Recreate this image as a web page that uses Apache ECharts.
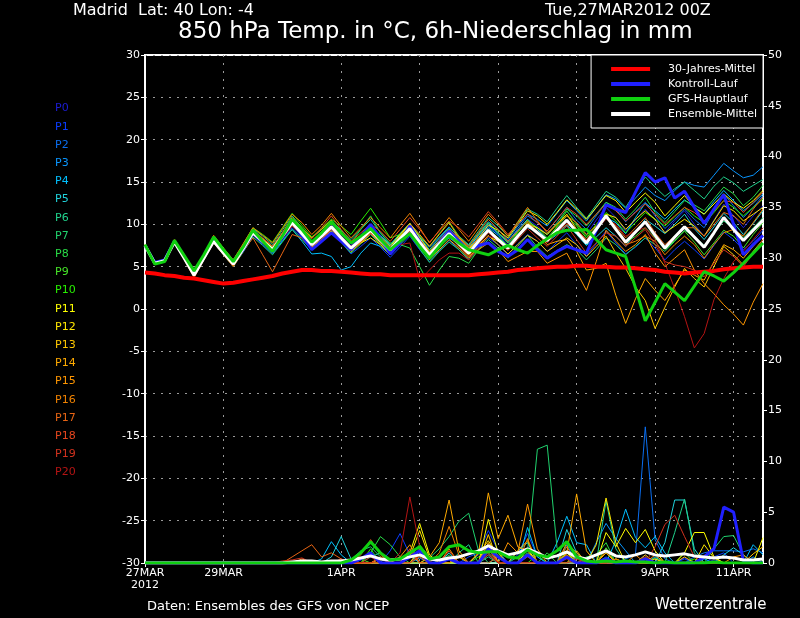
<!DOCTYPE html>
<html>
<head>
<meta charset="utf-8">
<script src="https://cdn.jsdelivr.net/npm/echarts@6/dist/echarts.min.js"></script>
<style>
  html, body { margin: 0; padding: 0; background: #000; }
  #chart { width: 800px; height: 618px; }
</style>
</head>
<body>
<div id="chart"></div>
<script>
// 6-hourly steps from 27MAR2012 00Z
const stepHours = []
for (let i = 0; i < 64; i++) stepHours.push(i * 6)
const dateSteps = [0, 8, 20, 28, 36, 44, 52, 60]
const dateLabels = ['27MAR\n2012', '29MAR', '1APR', '3APR', '5APR', '7APR', '9APR', '11APR']

const memberNames = ['P0','P1','P2','P3','P4','P5','P6','P7','P8','P9','P10',
  'P11','P12','P13','P14','P15','P16','P17','P18','P19','P20']
const memberColors = ['#1c1cd4','#0a3cff','#0a6ef0','#0a96ff','#00c0ff','#20d2dc','#20d28c',
  '#20d26e','#28dc46','#46e628','#28f000','#ffff00','#ffe600','#ffc800','#ffaa00','#ff9600',
  '#f08200','#e66414','#e6461e','#d2321e','#b41414']

// 850 hPa temperature (°C)
const climateTemp = [4.3,4.2,4.0,3.9,3.7,3.6,3.4,3.2, 3.0,3.1,3.3,3.5,3.7,3.9,4.2,4.4,
  4.6,4.6,4.5,4.5,4.4,4.3,4.2,4.1, 4.1,4.0,4.0,4.0,4.0,4.0,4.0,4.0,
  4.0,4.0,4.1,4.2,4.3,4.4,4.6,4.7, 4.8,4.9,5.0,5.0,5.1,5.1,5.0,5.0,
  4.9,4.9,4.8,4.7,4.6,4.4,4.3,4.2, 4.3,4.4,4.5,4.7,4.8,4.9,5.0,5.0]
const controlTemp = [7.5,5.5,5.8,8.0, 6.2,4.3,6.2,8.2, 6.8,5.5,7.0,9.0, 8.0,6.8,8.5,10.3,
  8.7,7.0,8.0,9.0, 8.0,7.0,8.5,10.0, 8.3,6.5,7.8,9.8, 8.0,6.2,7.8,9.2,
  8.0,6.8,7.5,7.8, 6.8,6.2,7.0,8.2, 7.0,6.0,6.8,7.4, 7.0,6.6,9.3,12.3,
  11.8,11.4,13.8,16.1, 15.0,15.5,13.1,13.9, 12.0,10.1,11.8,13.5, 10.0,6.4,7.6,8.7]
const gfsTemp = [7.6,5.3,5.6,8.1, 6.3,4.5,6.4,8.5, 7.0,5.6,7.3,9.3, 8.0,6.8,8.6,10.6,
  9.4,7.9,9.0,10.3, 9.0,7.8,8.6,9.5, 8.2,7.0,8.0,8.9, 7.4,6.0,7.4,8.7,
  7.8,7.0,6.7,6.4, 7.0,7.5,7.0,6.6, 7.5,8.3,9.0,9.3, 9.3,9.4,8.2,7.0,
  6.6,6.2,2.5,-1.4, 0.8,3.0,2.0,1.0, 2.7,4.4,3.9,3.3, 4.3,5.4,6.6,7.8]
const meanTemp = [7.5,5.4,5.7,7.9, 6.0,4.0,6.0,8.0, 6.6,5.3,7.1,9.0, 8.0,7.0,8.6,10.2,
  8.9,7.6,8.6,9.7, 8.4,7.2,8.2,9.3, 8.1,7.0,8.3,9.5, 7.9,6.4,7.7,8.9,
  7.7,6.6,8.0,9.3, 8.2,7.2,8.6,9.9, 9.0,8.1,9.3,10.5, 9.1,7.8,9.4,11.0,
  9.4,7.9,9.1,10.3, 8.7,7.2,8.5,9.7, 8.5,7.3,9.0,10.8, 9.4,8.1,9.3,10.5]

const p0Temp = [7.5,5.4,5.8,8.0, 6.1,4.1,6.2,8.2, 6.8,5.5,7.4,9.2, 8.2,7.1,8.8,10.4, 9.0,7.9,8.9,10.0, 8.8,7.6,8.6,9.8, 8.4,7.3,8.8,10.0, 8.4,7.0,8.3,9.5, 8.3,7.1,8.6,10.0, 8.8,7.6,9.2,10.6, 9.8,8.8,10.2,11.5, 10.2,8.8,10.5,12.0, 10.8,9.2,10.5,11.8, 10.5,9.0,10.4,11.6, 10.0,8.6,10.5,12.4, 11.0,9.6,11.0,12.2]
const p1Temp = [7.4,5.3,5.6,7.8, 5.9,3.9,5.9,7.9, 6.5,5.1,6.9,8.7, 7.6,6.5,8.1,9.6, 8.4,7.0,8.0,9.1, 7.9,6.5,7.4,8.4, 7.3,6.1,7.3,8.6, 7.0,5.6,6.9,8.1, 7.0,5.9,7.2,8.4, 7.6,6.4,7.7,8.8, 8.0,6.8,7.9,9.0, 7.6,6.3,7.7,9.2, 7.8,6.5,7.3,8.4, 7.2,5.8,7.0,8.0, 7.0,5.9,7.5,9.1, 8.2,7.0,8.0,9.3]
const p2Temp = [7.5,5.4,5.7,7.9, 6.0,4.1,6.1,8.1, 6.7,5.4,7.2,9.1, 8.1,7.2,8.7,10.1, 8.8,7.4,8.4,9.5, 8.2,7.0,8.1,9.4, 8.2,7.2,8.5,9.8, 8.1,6.8,8.0,9.1, 8.0,6.9,8.4,9.8, 8.9,7.9,9.5,11.0, 10.2,9.2,10.6,12.0, 10.5,9.4,11.0,12.6, 11.8,10.3,11.5,12.6, 11.0,9.5,10.6,11.8, 10.6,9.6,11.6,13.6, 12.2,10.8,12.0,13.4]
const p3Temp = [7.5,5.5,5.8,7.9, 6.0,4.0,6.1,8.1, 6.7,5.3,7.1,8.9, 7.9,6.9,8.5,10.1, 8.7,7.3,8.2,9.3, 8.3,7.4,8.6,9.9, 8.7,7.6,8.9,10.1, 8.6,7.3,8.5,9.7, 8.5,7.5,8.9,10.3, 9.4,8.2,9.8,11.2, 10.6,9.8,11.3,12.8, 11.6,10.4,12.0,13.5, 13.0,11.9,13.1,14.4, 13.4,12.8,14.0,15.0, 14.6,14.4,15.8,17.2, 16.3,15.5,15.8,16.8]
const p4Temp = [7.5,5.4,5.7,7.8, 5.9,4.0,6.0,7.9, 6.5,5.2,6.9,8.8, 7.8,6.6,8.0,9.4, 8.0,6.5,6.6,6.2, 4.6,5.0,6.6,7.8, 7.4,6.5,7.8,9.1, 7.8,6.3,7.4,8.4, 7.6,6.7,8.2,9.6, 8.7,7.4,8.6,9.6, 9.2,7.9,8.8,9.8, 9.0,7.6,9.2,10.8, 10.2,8.9,10.8,12.5, 11.6,10.6,11.8,12.9, 12.0,11.2,12.7,14.0, 12.8,11.6,12.5,13.6]
const p5Temp = [7.6,5.5,5.8,8.0, 6.1,4.2,6.1,8.0, 6.9,5.8,7.5,9.2, 8.3,7.4,8.9,10.5, 9.2,8.0,9.0,10.1, 8.9,7.8,8.6,9.6, 8.6,7.6,8.6,9.5, 7.6,6.0,7.3,8.6, 8.0,7.2,8.7,10.1, 9.0,8.0,9.3,10.6, 9.4,8.3,9.1,9.9, 8.8,7.5,8.5,9.6, 8.6,7.4,9.0,10.6, 9.8,8.9,10.0,11.2, 9.5,8.2,9.7,11.3, 10.2,8.8,10.1,11.6]
const p6Temp = [7.5,5.4,5.7,7.9, 6.0,4.0,6.0,8.0, 6.8,5.6,7.5,9.5, 8.6,7.6,9.3,11.0, 9.6,8.4,9.4,10.5, 9.3,8.2,9.4,10.6, 9.0,7.6,8.9,10.1, 8.5,7.0,8.4,9.6, 8.6,7.6,9.2,10.8, 9.8,8.6,10.2,11.8, 11.2,10.3,11.9,13.4, 12.0,10.7,12.3,13.9, 13.2,12.0,13.8,15.6, 14.4,13.3,14.2,15.0, 14.0,13.0,14.5,15.6, 14.9,13.9,14.6,15.3]
const p7Temp = [7.4,5.3,5.6,7.8, 5.9,3.9,5.8,7.8, 6.4,5.0,6.7,8.5, 7.5,6.4,7.9,9.4, 8.2,7.0,8.1,9.2, 7.9,6.6,7.7,8.8, 7.6,6.4,7.6,8.8, 7.1,5.5,6.8,7.9, 7.0,5.8,7.0,8.2, 7.2,6.0,7.4,8.7, 7.3,6.2,6.9,7.6, 7.0,5.8,7.0,8.4, 7.6,6.4,7.4,8.4, 7.6,6.8,8.0,9.3, 8.6,7.5,8.9,10.4, 9.5,8.4,9.6,10.8]
const p8Temp = [7.5,5.4,5.7,7.9, 6.0,4.1,6.1,8.1, 6.6,5.4,7.2,9.1, 8.0,7.0,8.6,10.3, 9.1,7.8,8.8,9.8, 8.8,7.8,9.4,11.0, 9.0,7.8,7.6,7.2, 5.0,2.8,4.6,6.2, 6.0,5.4,7.0,8.6, 8.0,7.0,8.6,10.2, 9.6,8.8,10.2,11.8, 11.0,9.8,11.2,12.6, 12.0,10.6,11.8,13.2, 11.4,10.2,11.5,12.8, 12.3,11.6,13.0,14.4, 13.6,12.2,13.2,14.6]
const p9Temp = [7.5,5.4,5.6,7.8, 6.0,4.0,5.9,7.9, 6.5,5.2,7.0,8.9, 8.2,7.3,8.8,10.4, 9.0,7.6,8.5,9.5, 8.1,6.8,7.9,9.1, 8.2,7.2,8.6,10.0, 8.6,7.4,8.9,10.3, 8.6,7.4,8.8,10.2, 9.0,7.8,9.1,10.4, 9.6,8.4,9.7,11.0, 9.8,8.4,9.7,11.2, 9.4,7.8,8.6,9.6, 8.4,7.0,8.1,9.2, 7.9,6.4,7.8,9.3, 8.6,7.2,8.8,10.2]
const p10Temp = [7.5,5.4,5.7,7.9, 6.0,4.0,6.0,8.1, 6.9,5.7,7.6,9.6, 8.8,7.9,9.6,11.3, 9.9,8.5,9.5,10.6, 9.8,8.8,10.4,11.9, 10.2,8.4,8.8,9.2, 8.0,6.6,7.6,8.6, 7.8,6.4,7.8,9.2, 8.4,7.5,9.0,10.5, 9.0,8.0,9.8,11.6, 10.0,8.6,10.0,11.4, 10.4,9.0,10.2,11.4, 10.6,9.8,10.9,12.0, 11.0,10.2,11.4,12.8, 12.0,11.0,12.0,13.0]
const p11Temp = [7.6,5.5,5.8,8.0, 6.1,4.1,6.1,8.1, 6.7,5.4,7.2,9.1, 8.2,7.2,8.7,10.3, 9.0,7.7,8.7,9.8, 8.6,7.3,8.4,9.6, 8.5,7.4,8.8,10.1, 8.4,6.8,8.1,9.4, 8.2,7.0,8.4,9.9, 9.3,8.4,10.0,11.6, 11.0,10.0,11.4,12.9, 11.8,10.6,12.0,13.4, 12.8,11.4,12.6,13.7, 12.6,11.0,12.2,13.4, 12.0,11.2,12.4,13.6, 12.6,11.9,12.8,14.0]
const p12Temp = [7.5,5.4,5.7,7.9, 6.0,4.0,6.0,8.0, 6.6,5.3,7.1,9.0, 8.1,7.1,8.7,10.3, 9.0,7.7,8.7,9.8, 8.6,7.2,7.8,8.4, 7.6,6.4,7.9,9.3, 7.9,6.3,7.5,8.6, 7.6,6.4,7.5,8.6, 8.0,7.1,8.6,10.0, 9.6,8.8,10.0,11.2, 9.4,8.0,9.6,11.2, 10.8,9.4,10.6,11.6, 10.6,9.0,9.8,10.6, 9.8,8.6,10.4,12.2, 11.6,10.4,11.2,12.0]
const p13Temp = [7.5,5.4,5.7,7.9, 6.0,4.0,6.0,8.0, 6.6,5.3,7.2,9.2, 8.2,7.0,8.5,10.0, 8.7,7.3,8.2,9.2, 8.0,6.8,7.8,8.9, 7.8,6.6,7.8,9.0, 7.4,5.8,7.0,8.2, 7.2,6.0,7.4,8.7, 7.6,6.5,7.6,8.7, 8.0,6.8,7.6,8.4, 7.6,6.2,7.4,8.6, 6.6,4.8,2.6,1.0, -2.3,0.2,2.6,4.8, 3.6,2.6,5.0,7.4, 6.4,5.2,6.8,8.2]
const p14Temp = [7.4,5.3,5.6,7.8, 5.9,3.9,5.9,7.9, 6.6,5.3,7.2,9.2, 8.3,7.4,9.0,10.8, 9.6,8.4,9.4,10.5, 9.0,7.8,8.7,9.6, 8.4,7.1,8.6,10.1, 8.8,7.4,8.8,10.2, 8.4,7.2,8.3,9.4, 8.2,7.0,8.6,10.2, 9.0,7.6,8.0,8.2, 6.8,4.6,4.8,5.4, 1.6,-1.7,1.2,3.6, 2.2,1.0,2.8,4.6, 4.0,3.4,5.6,7.6, 7.0,6.0,7.4,8.8]
const p15Temp = [7.5,5.4,5.7,7.9, 6.0,4.0,6.0,8.0, 6.5,5.1,6.9,8.8, 7.9,6.8,8.4,10.0, 8.6,7.2,8.1,9.1, 8.0,6.9,8.2,9.5, 8.1,6.9,8.3,9.7, 8.2,6.7,7.7,8.7, 7.6,6.2,7.0,7.8, 7.0,5.6,6.2,6.8, 6.8,5.4,6.0,6.6, 4.4,2.2,5.6,9.3, 8.0,6.8,7.6,8.8, 6.6,5.0,6.0,7.0, 4.6,3.0,1.8,0.5, -0.6,-1.9,0.8,3.0]
const p16Temp = [7.6,5.5,5.9,8.2, 6.3,4.3,6.4,8.7, 7.2,5.8,7.7,9.6, 8.7,7.8,9.5,11.2, 10.2,8.8,9.9,11.3, 9.8,8.4,9.6,10.8, 9.6,8.4,9.9,11.3, 9.6,7.8,9.3,10.8, 9.4,8.0,9.6,11.2, 10.0,8.6,10.3,12.0, 10.4,9.0,10.0,11.0, 10.2,8.8,9.8,10.8, 9.4,7.6,8.0,8.6, 8.0,6.4,7.6,8.6, 7.6,6.0,7.6,9.0, 9.4,8.6,10.2,11.8]
const p17Temp = [7.4,5.3,5.6,7.8, 5.8,3.7,5.8,7.8, 6.4,5.0,6.8,8.4, 6.4,4.4,6.6,8.8, 8.4,7.0,8.2,9.4, 8.2,6.9,7.9,8.9, 8.0,6.8,8.2,9.6, 8.0,6.6,8.0,9.3, 8.5,7.4,9.0,10.6, 9.4,8.0,9.2,10.4, 9.2,8.0,9.0,10.0, 9.4,8.2,9.6,11.0, 9.8,8.4,9.6,10.8, 9.0,7.6,8.6,9.6, 9.6,8.6,10.0,11.4, 11.0,10.0,11.8,13.2]
const p18Temp = [7.5,5.4,5.7,7.9, 6.0,4.0,6.0,8.0, 6.7,5.5,7.3,9.3, 8.4,7.4,9.0,10.6, 9.5,8.3,9.6,11.0, 9.4,8.0,9.0,10.0, 9.2,8.0,9.4,10.8, 9.4,7.9,9.2,10.4, 9.6,8.5,10.0,11.5, 10.2,8.8,10.0,11.2, 10.2,9.2,10.6,12.0, 11.2,10.0,11.2,12.4, 11.6,10.4,11.4,12.4, 11.2,10.0,11.0,12.0, 11.4,10.4,11.6,12.8, 12.6,11.4,12.6,13.8]
const p19Temp = [7.5,5.4,5.7,7.9, 6.0,4.0,6.0,8.0, 6.5,5.2,7.0,8.8, 7.8,6.8,8.3,9.8, 8.7,7.4,8.4,9.4, 8.2,7.0,8.0,9.0, 7.9,6.6,7.9,9.2, 7.6,6.1,7.3,8.6, 7.4,6.2,7.6,9.0, 8.0,6.9,8.2,9.5, 8.4,7.4,8.6,9.8, 8.2,6.6,7.8,9.0, 8.6,7.4,8.4,9.4, 7.6,5.6,5.2,5.0, 4.6,3.8,5.4,7.0, 6.2,5.0,6.6,8.2]
const p20Temp = [7.5,5.4,5.7,7.9, 6.0,4.0,6.0,8.0, 6.6,5.4,7.1,9.0, 8.0,7.0,8.6,10.2, 9.0,7.6,8.6,9.6, 8.6,7.4,8.4,9.4, 8.2,7.0,7.6,7.8, 3.4,4.6,5.8,6.6, 6.6,5.8,7.2,8.6, 8.2,7.0,8.4,9.8, 9.0,7.8,9.0,10.2, 9.4,8.0,9.4,10.6, 10.0,8.6,9.2,9.6, 8.2,5.4,2.4,-0.9, -4.6,-2.9,1.1,3.6, 5.6,6.8,8.2,9.6]

// 6h precipitation (mm)
const controlRain = [0,0,0,0,0,0,0,0, 0,0,0,0,0,0,0,0, 0,0,0,0,0,0,0.4,1.0, 0,0,0,0.6,1.2,0,0,0.4,
  0,0,0,1.4,0.6,0,0,0.8, 0,0,0,0.6,0,0,0,0.4, 0,0,0,0.4,0,0,0,0, 0,0.6,1.4,5.5,5.0,0.2,0,0]
const gfsRain = [0,0,0,0,0,0,0,0, 0,0,0,0,0,0,0,0, 0,0,0,0,0,0.3,1.0,2.1, 1.0,0.3,0.4,1.0,1.6,0.4,0.6,1.6,
  1.8,1.2,1.0,1.1,1.1,0.6,0.5,1.3, 0.8,0.6,1.2,2.1,0.6,0.2,0.1,0.2, 0.1,0.2,0.1,0.1,0,0.1,0,0, 0,0,0.1,0,0,0,0,0]
const meanRain = [0,0,0,0,0,0,0,0, 0,0,0,0,0,0,0,0.1, 0.2,0.2,0.1,0.2,0.2,0.3,0.5,0.7, 0.4,0.3,0.4,0.6,0.8,0.4,0.3,0.5,
  0.6,0.9,1.2,1.7,1.2,0.8,1.0,1.4, 1.0,0.5,0.7,1.1,0.6,0.4,0.8,1.2, 0.7,0.6,0.8,1.1,0.8,0.7,0.8,0.9, 0.7,0.6,0.5,0.6,0.5,0.3,0.3,0.4]

const p0Rain = [0,0,0,0,0,0,0,0, 0,0,0,0,0,0,0,0, 0,0,0,0,0,0,0.3,0.8, 0.4,0,0,0.6,1.2,0,0,0.5, 0,0,0.8,1.6,0.5,0,0,1.0, 0,0,0,0.6,0,0,0,0.4, 0,0,0,0.8,0,0,0,0.5, 0,0,0.3,0,0,0,0,0]
const p1Rain = [0,0,0,0,0,0,0,0, 0,0,0,0,0,0,0,0, 0,0,0,0,0,0,0,0, 0,1.2,2.9,0.8,0,0,0,0, 0,0.6,1.0,3.2,1.2,0,0.8,2.9, 0.6,0,0,0,0.5,0,0,0, 0,0,0,0,0,0,0,0.4, 0,0,0.6,1.0,0,0,0,0]
const p2Rain = [0,0,0,0,0,0,0,0, 0,0,0,0,0,0,0,0, 0,0,0,0,0,0,0,0, 0.4,0,0,0,0.9,0,0,0, 0,0,0,1.4,0,0,0,0.8, 0,0,0,0,0,0,0,0.6, 0,0.4,0.8,13.4,2.3,0.4,0,0, 0.6,1.0,1.2,1.2,1.2,1.1,1.4,1.0]
const p3Rain = [0,0,0,0,0,0,0,0, 0,0,0,0,0,0,0,0, 0,0,0,0,0,0,0,0, 0,0,0,0,0.5,0,0,0, 0.8,0,0,1.0,0,0,0,1.4, 0,0,0,1.8,0,0,2.0,3.9, 2.4,1.2,0,0,0.6,0,0,0, 0,0.4,0,0,0,0,0.6,0]
const p4Rain = [0,0,0,0,0,0,0,0, 0,0,0,0,0,0,0,0, 0,0,0.4,2.1,0.8,0,0,0, 0.5,0,0,0,1.2,0.4,0,0, 0,0,0,0.8,0,0,0,3.5, 0.6,0,2.0,4.6,2.0,1.8,0,0, 2.2,5.3,2.5,1.5,2.6,1.0,0,0, 0,0,0,0,0,0,1.8,0.8]
const p5Rain = [0,0,0,0,0,0,0,0, 0,0,0,0,0,0,0,0, 0,0,0,0.6,2.6,0.4,0,0, 0,0,0,0.8,0,0,0,1.0, 0,0,0,0,0.6,0,1.2,2.0, 0,0,0,3.3,1.0,0,0,0, 0,0,0,0,0,2.0,6.2,6.2, 1.4,0,0,0.8,1.5,0.8,0,0]
const p6Rain = [0,0,0,0,0,0,0,0, 0,0,0,0,0,0,0,0, 0,0,0,0,0,0,0,0.6, 1.0,0,0,0,0,0,0,0, 1.0,1.8,0,0.6,0,0,0,0.8, 0,0,0,0,0,0,0,6.1, 1.4,0,0,0.6,0,0,3.0,6.3, 1.0,0,0,0,0,0,0,0]
const p7Rain = [0,0,0,0,0,0,0,0, 0,0,0,0,0,0,0,0, 0,0,0,0,0,0.3,1.2,1.6, 0.6,0,0,0,0,0.5,1.4,2.6, 4.1,4.9,1.2,0,0,0,0.6,1.2, 11.2,11.6,1.5,0.5,0,0,0,0, 0,0,0,0,0,0,0,0, 0,0,1.4,2.6,2.7,0.8,0,0]
const p8Rain = [0,0,0,0,0,0,0,0, 0,0,0,0,0,0,0,0, 0,0,0,0,0,0,0,1.0, 2.6,1.8,0.6,0,0,0,0,0.8, 0,0,0,1.2,0.8,0,0,0, 0,1.0,0,0,0,0.6,0.8,2.0, 0,0,0,0,0.5,0,0,0, 0,0,0,0,0,0,0,0]
const p9Rain = [0,0,0,0,0,0,0,0, 0,0,0,0,0,0,0,0, 0,0,0,0,0,0,0.4,0, 0,0,0,0,0.8,0,0,0, 0.6,0,0,1.8,0,0,0,1.0, 0,0,0,1.2,0,0,0,1.5, 0,0,0,0.5,0,0,0,1.0, 0,0,0,0,0,0,0,0]
const p10Rain = [0,0,0,0,0,0,0,0, 0,0,0,0,0,0,0,0, 0,0,0,0,0,0,0,1.4, 0,0,0,0.5,1.8,0.6,0,0, 0,0,0.6,1.0,0,0,0,0, 0.8,0,0,0,0.6,0,0,0, 0.4,0,0,0,0,0,0,0, 0.4,0,0,0,0,0,0,0]
const p11Rain = [0,0,0,0,0,0,0,0, 0,0,0,0,0,0,0,0, 0,0,0,0,0,0,0,0, 0,0,0,1.0,3.9,0.8,0,0, 0,0,0,4.3,1.0,0,0,1.4, 0,0,0,1.0,0,0,0,3.0, 1.6,3.4,2.0,3.3,1.2,0,0,1.0, 3.0,3.0,0.6,0,0,0,0,2.5]
const p12Rain = [0,0,0,0,0,0,0,0, 0,0,0,0,0,0,0,0, 0,0,0,0,0,0,0,0, 0,0,0,0.6,3.2,0.5,0,0, 0,0,0.9,2.2,0.6,0,0,0, 0,0,0,0.8,0,0,1.8,6.4, 2.0,0,0,0,0.4,0,0,0, 0,1.8,0.5,0,0,0,0,0]
const p13Rain = [0,0,0,0,0,0,0,0, 0,0,0,0,0,0,0,0, 0,0,0,0,0,0,0,0, 0.4,0,0,0,1.4,0,0,0, 0.6,0,0,2.8,0,0,1.2,2.2, 0,0,0,0,1.2,0,0,1.0, 0,0,0,0.8,0,0,0,0.6, 0,0,0,0,0,0,0.9,1.6]
const p14Rain = [0,0,0,0,0,0,0,0, 0,0,0,0,0,0,0,0, 0,0,0,0,0,0,0,0, 0,0,0,0,0,0.6,2.0,6.2, 1.2,0,1.0,6.9,2.4,4.7,1.6,1.2, 0,0,0,1.0,6.8,1.2,0,0, 0.4,0,0,0,0,0,0,0, 0,0,0,0,0,0,0,0]
const p15Rain = [0,0,0,0,0,0,0,0, 0,0,0,0,0,0,0,0, 0,0,0,0,0,0,0,0, 0,0,0.6,1.8,0,0,0,1.4, 0,0,0,2.0,0,2.0,1.0,5.8, 1.4,0,0,2.0,1.0,0,0,1.2, 0,0,0,0,0.8,0,0,0, 0,0,0,0,0.6,0.8,0,0]
const p16Rain = [0,0,0,0,0,0,0,0, 0,0,0,0,0,0,0,0, 0.4,0,0,0,0,0,0,0, 0.6,0,0,1.2,0,0,1.0,3.6, 0.8,0,0,1.4,0,0,0,2.4, 0,0,0,1.6,0,0,0,0, 0.4,0,0.8,0,0,0,0,0, 0,0,0,0,0,0,0,0]
const p17Rain = [0,0,0,0,0,0,0,0, 0,0,0,0,0,0,0,0.6, 1.2,1.8,0.6,1.0,0.4,0,0.8,2.3, 0.8,0,0,0,0.6,0,0,0, 0.8,0,0,0,0.6,0,0,0, 0,0,0,0.8,0,0,0,0, 0,0,0,0,0,0,0,0, 0,0,0,0,0,0,0,0]
const p18Rain = [0,0,0,0,0,0,0,0, 0,0,0,0,0,0,0,0, 0,0,0,0,0.4,0,0,0, 0.5,0,0,1.4,0,0,0,1.2, 0,0,0,1.4,0,0,0,0.6, 0,0,0,0,0,0.4,0,0, 0,0,0,0.6,0,0,0,0, 0,0,0,0,0,0,0,0]
const p19Rain = [0,0,0,0,0,0,0,0, 0,0,0,0,0,0,0.2,0.3, 0.5,0,0,0,0,0,0,0.6, 0,0,0,0,0.8,0,0,0.6, 0,0,0,0.8,0,0,0,0, 0,0,0,0,0.4,0,0,0, 0,0,0,0,1.6,3.8,4.7,2.6, 0.6,0,0,0,0,0,0,0]
const p20Rain = [0,0,0,0,0,0,0,0, 0,0,0,0,0,0,0,0, 0,0,0,0,0,0,0,0, 0,0,1.0,6.5,1.6,0,0,0.4, 0,0,0,1.0,0,0,0,0, 0,0,0,0.4,0,0,0,0, 0,0,0,0.6,0,0,0,0, 0,0,0,0,0,0,0,0]

const memberTemp = [p0Temp,p1Temp,p2Temp,p3Temp,p4Temp,p5Temp,p6Temp,p7Temp,p8Temp,p9Temp,p10Temp,
  p11Temp,p12Temp,p13Temp,p14Temp,p15Temp,p16Temp,p17Temp,p18Temp,p19Temp,p20Temp]
const memberRain = [p0Rain,p1Rain,p2Rain,p3Rain,p4Rain,p5Rain,p6Rain,p7Rain,p8Rain,p9Rain,p10Rain,
  p11Rain,p12Rain,p13Rain,p14Rain,p15Rain,p16Rain,p17Rain,p18Rain,p19Rain,p20Rain]

const FONT = 'DejaVu Sans'
const isDate = idx => dateSteps.indexOf(idx) >= 0

function line(name, data, color, width, axis) {
  return {
    name: name,
    type: 'line',
    data: data,
    yAxisIndex: axis,
    symbol: 'none',
    showSymbol: false,
    silent: true,
    lineStyle: { color: color, width: width },
    itemStyle: { color: color }
  }
}

const series = []
memberTemp.forEach((d, i) => series.push(line(memberNames[i], d, memberColors[i], 1, 0)))
memberRain.forEach((d, i) => series.push(line(memberNames[i], d, memberColors[i], 1, 1)))
series.push(line('30-Jahres-Mittel', climateTemp, '#ff0000', 4, 0))
series.push(line('Kontroll-Lauf', controlTemp, '#2020ff', 3, 0))
series.push(line('Kontroll-Lauf', controlRain, '#2020ff', 3, 1))
series.push(line('Ensemble-Mittel', meanTemp, '#ffffff', 3, 0))
series.push(line('Ensemble-Mittel', meanRain, '#ffffff', 3, 1))
series.push(line('GFS-Hauptlauf', gfsTemp, '#10d010', 3, 0))
series.push(line('GFS-Hauptlauf', gfsRain, '#10d010', 3, 1))

const white = { color: '#fff', fontFamily: FONT, fontWeight: 'normal' }

const option = {
  backgroundColor: '#000',
  animation: false,
  title: [
    { text: 'Madrid  Lat: 40 Lon: -4', left: 73, top: 3, padding: 0, textStyle: { ...white, fontSize: 16 } },
    { text: 'Tue,27MAR2012 00Z', left: 545, top: 3, padding: 0, textStyle: { ...white, fontSize: 16 } },
    { text: '850 hPa Temp. in °C, 6h-Niederschlag in mm', left: 178, top: 21, padding: 0, textStyle: { ...white, fontSize: 23 } },
    { text: 'Daten: Ensembles des GFS von NCEP', left: 147, top: 600, padding: 0, textStyle: { ...white, fontSize: 13 } },
    { text: 'Wetterzentrale', left: 655, top: 598, padding: 0, textStyle: { ...white, fontSize: 15 } }
  ],
  legend: {
    data: ['30-Jahres-Mittel', 'Kontroll-Lauf', 'GFS-Hauptlauf', 'Ensemble-Mittel'],
    orient: 'vertical',
    right: 37,
    top: 55,
    icon: 'rect',
    itemWidth: 39,
    itemHeight: 4,
    itemGap: 3,
    padding: [8, 6, 8, 20],
    backgroundColor: '#000',
    borderColor: '#fff',
    borderWidth: 1,
    selectedMode: false,
    textStyle: { ...white, fontSize: 11, lineHeight: 12, padding: [0, 0, 0, 13] }
  },
  graphic: memberNames.map((n, i) => ({
    type: 'text',
    left: 55,
    top: 103 + i * 18.2,
    style: { text: n, fill: memberColors[i], font: '11px "DejaVu Sans"' }
  })),
  grid: {
    left: 145, right: 37, top: 55, bottom: 55,
    show: true, borderColor: '#fff', borderWidth: 2
  },
  xAxis: {
    type: 'category',
    data: stepHours,
    boundaryGap: false,
    axisLine: { onZero: false, lineStyle: { color: '#fff', width: 2 } },
    axisTick: { show: true, interval: isDate, length: 4, lineStyle: { color: '#fff' } },
    axisLabel: {
      interval: isDate,
      formatter: (v, idx) => dateLabels[dateSteps.indexOf(idx)] || '',
      ...white, fontSize: 11, lineHeight: 12, margin: 4
    },
    splitLine: { show: true, interval: isDate, lineStyle: { color: '#9a9a9a', type: [2, 6], width: 1 } }
  },
  yAxis: [
    {
      type: 'value', min: -30, max: 30, interval: 5,
      axisLine: { show: true, lineStyle: { color: '#fff', width: 2 } },
      axisTick: { show: true, length: 4, lineStyle: { color: '#fff' } },
      axisLabel: { ...white, fontSize: 11, margin: 5 },
      splitLine: { show: true, lineStyle: { color: '#9a9a9a', type: [2, 6], width: 1 } }
    },
    {
      type: 'value', min: 0, max: 50, interval: 5, position: 'right',
      axisLine: { show: true, lineStyle: { color: '#fff', width: 2 } },
      axisTick: { show: true, length: 4, lineStyle: { color: '#fff' } },
      axisLabel: { ...white, fontSize: 11, margin: 5 },
      splitLine: { show: false }
    }
  ],
  series: series
}

const chart = echarts.init(document.getElementById('chart'))
chart.setOption(option)
</script>
</body>
</html>
